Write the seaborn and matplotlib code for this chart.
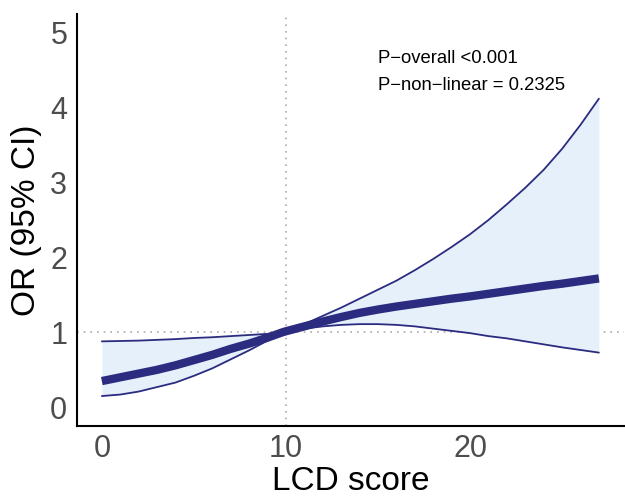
import matplotlib
matplotlib.use("Agg")
import matplotlib.pyplot as plt
import numpy as np
import pandas as pd
import seaborn as sns

# valores (curva RCS)
lcd_score = [0, 1, 2, 3, 4, 5, 6, 7, 8, 9, 9.8, 10, 11, 12, 13, 14, 15, 16, 17, 18,
             19, 20, 21, 22, 23, 24, 25, 26, 27]
or_estimate = [0.35, 0.40, 0.45, 0.50, 0.56, 0.63, 0.70, 0.78, 0.85, 0.93, 1.0, 1.015, 1.08,
               1.145, 1.205, 1.26, 1.305, 1.345, 1.38, 1.415, 1.45, 1.48, 1.515, 1.55, 1.585,
               1.62, 1.65, 1.685, 1.72]
ci_upper = [0.88, 0.885, 0.89, 0.90, 0.91, 0.925, 0.935, 0.95, 0.965, 0.98, 1.0, 1.025, 1.11,
            1.22, 1.33, 1.45, 1.57, 1.69, 1.83, 1.98, 2.14, 2.31, 2.50, 2.71, 2.93,
            3.17, 3.45, 3.77, 4.12]
ci_lower = [0.15, 0.17, 0.21, 0.27, 0.33, 0.42, 0.52, 0.64, 0.76, 0.89, 1.0, 1.01, 1.05,
            1.08, 1.10, 1.11, 1.11, 1.10, 1.08, 1.05, 1.02, 0.99, 0.95, 0.92, 0.88,
            0.84, 0.80, 0.765, 0.73]

x_ticks = [0, 10, 20]
y_ticks = [0, 1, 2, 3, 4, 5]
ref_x = 10
ref_y = 1

df = pd.DataFrame({"lcd": lcd_score, "or": or_estimate, "upper": ci_upper, "lower": ci_lower})

sns.set_theme(style="white")
plt.rcParams["font.family"] = ["Liberation Sans", "DejaVu Sans"]

cor_linha = "#2B2B80"
cor_fundo = "#E6F0FA"

fig = plt.figure(figsize=(6.25, 4.96), dpi=100)
ax = fig.add_axes([0.1232, 0.1411, 0.8748, 0.8307])

ax.fill_between(df["lcd"], df["lower"], df["upper"], color=cor_fundo, linewidth=0, zorder=1)
ax.axhline(ref_y, color="#AAAAAA", linestyle=(0, (1, 3)), linewidth=1.2, zorder=0)
ax.axvline(ref_x, color="#AAAAAA", linestyle=(0, (1, 3)), linewidth=1.2, zorder=0)
sns.lineplot(data=df, x="lcd", y="upper", color=cor_linha, linewidth=1.3, ax=ax, zorder=2)
sns.lineplot(data=df, x="lcd", y="lower", color=cor_linha, linewidth=1.3, ax=ax, zorder=2)
sns.lineplot(data=df, x="lcd", y="or", color=cor_linha, linewidth=6, ax=ax, zorder=3,
             solid_capstyle="butt", solid_joinstyle="round")

ax.set_xlim(-1.35, 28.35)
ax.set_ylim(-0.25, 5.25)
ax.set_xticks(x_ticks)
ax.set_yticks(y_ticks)
ax.tick_params(axis="both", labelsize=22, labelcolor="#4D4D4D", colors="#333333",
               length=4, width=1.1, direction="out", pad=3)
ax.tick_params(axis="x", pad=2)
for s in ["top", "right"]:
    ax.spines[s].set_visible(False)
for s in ["left", "bottom"]:
    ax.spines[s].set_color("black")
    ax.spines[s].set_linewidth(1.5)

ax.set_xlabel("LCD score", fontsize=24, color="black", labelpad=1)
ax.set_ylabel("OR (95% CI)", fontsize=24, color="black", labelpad=6)

ax.text(15.0, 4.59, "P\u2212overall <0.001", fontsize=13.3, va="baseline", ha="left", color="black")
ax.text(15.0, 4.23, "P\u2212non\u2212linear = 0.2325", fontsize=13.3, va="baseline", ha="left", color="black")

fig.savefig("out.png", dpi=100)
